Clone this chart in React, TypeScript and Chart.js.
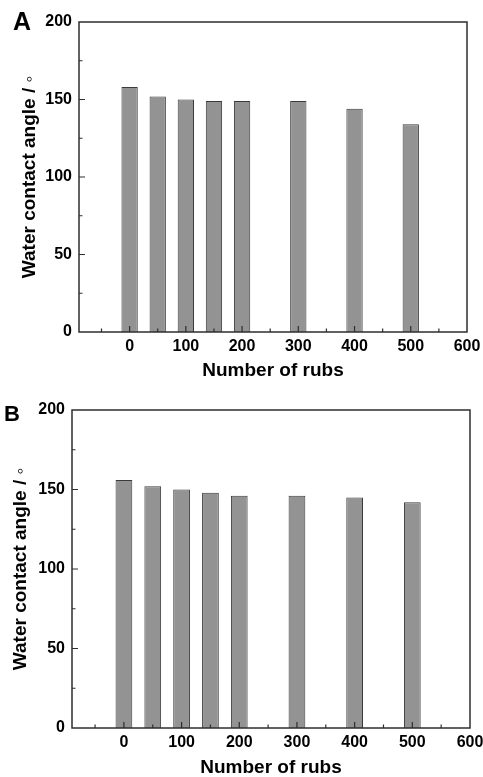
import React, { useEffect, useRef } from "react";
import { Chart, registerables } from "chart.js";

Chart.register(...registerables);

const rubs = [0, 50, 100, 150, 200, 300, 400, 500];
const angleA = [158, 152, 150, 149, 149, 149, 144, 134];
const angleB = [156, 152, 150, 148, 146, 146, 145, 142];
const xMajorTicks = [0, 100, 200, 300, 400, 500, 600];
const xMinorTicks = [-50, 50, 150, 250, 350, 450, 550];
const yMajorTicks = [0, 50, 100, 150, 200];
const yMinorTicks = [25, 75, 125, 175];
const xTitle = "Number of rubs";
const yTitle = "Water contact angle / \u25E6";

const FONT = "'Liberation Sans', Arial, Helvetica, sans-serif";

const frameTicks = {
  id: "frameTicks",
  afterDatasetsDraw(chart: any) {
    const { ctx, chartArea, scales } = chart;
    const { left, right, top, bottom } = chartArea;
    const x = scales.x;
    const y = scales.y;
    ctx.save();
    ctx.strokeStyle = "#2e2e2e";
    ctx.lineWidth = 1.2;
    ctx.beginPath();
    const tick = (vals: number[], len: number, horiz: boolean) => {
      vals.forEach((v) => {
        if (horiz) {
          const px = x.getPixelForValue(v);
          if (px <= left + 1 || px >= right - 1) return;
          ctx.moveTo(px, bottom);
          ctx.lineTo(px, bottom - len);
        } else {
          const py = y.getPixelForValue(v);
          if (py >= bottom - 1 || py <= top + 1) return;
          ctx.moveTo(left, py);
          ctx.lineTo(left + len, py);
        }
      });
    };
    tick(xMajorTicks, 6, true);
    tick(xMinorTicks, 3.5, true);
    tick(yMajorTicks, 6, false);
    tick(yMinorTicks, 3.5, false);
    ctx.stroke();
    ctx.lineWidth = 1.5;
    ctx.strokeRect(left, top, right - left, bottom - top);
    ctx.restore();
  },
};

type PanelProps = {
  values: number[];
  letter: string;
  top: number;
  height: number;
  areaLeft: number;
  areaRight: number;
  areaTop: number;
  areaBottom: number;
  yTitlePad: number;
  xTitlePad: number;
  letterLeft: number;
  letterTop: number;
  letterSize: number;
};

function Panel(p: PanelProps) {
  const ref = useRef<HTMLCanvasElement | null>(null);
  useEffect(() => {
    if (!ref.current) return;
    const chart = new Chart(ref.current, {
      type: "bar",
      data: {
        datasets: [
          {
            data: rubs.map((r, i) => ({ x: r, y: p.values[i] })),
            backgroundColor: "#939393",
            borderColor: "#3a3a3a",
            borderWidth: 1,
            barPercentage: 0.58,
            categoryPercentage: 1,
          },
        ],
      },
      options: {
        responsive: false,
        animation: false,
        layout: {
          padding: { top: p.areaTop, right: 483 - p.areaRight, left: 0, bottom: 0 },
        },
        plugins: {
          legend: { display: false },
          tooltip: { enabled: false },
        },
        scales: {
          x: {
            type: "linear",
            min: -90,
            max: 600,
            offset: false,
            grid: { display: false, drawTicks: false },
            border: { display: false },
            afterBuildTicks: (s: any) => {
              s.ticks = xMajorTicks.map((v) => ({ value: v }));
            },
            afterFit: (s: any) => {
              s.height = p.height - p.areaBottom;
              s.paddingLeft = 0;
              s.paddingRight = 0;
            },
            ticks: {
              color: "#000",
              padding: 5,
              maxRotation: 0,
              autoSkip: false,
              font: { family: FONT, size: 16, weight: "bold" },
            },
            title: {
              display: true,
              text: xTitle,
              color: "#000",
              padding: { top: 0, bottom: p.xTitlePad },
              font: { family: FONT, size: 19, weight: "bold", lineHeight: 1 },
            },
          },
          y: {
            type: "linear",
            min: 0,
            max: 200,
            grid: { display: false, drawTicks: false },
            border: { display: false },
            afterBuildTicks: (s: any) => {
              s.ticks = yMajorTicks.map((v) => ({ value: v }));
            },
            afterFit: (s: any) => {
              s.width = p.areaLeft;
              s.paddingTop = 0;
              s.paddingBottom = 0;
            },
            ticks: {
              color: "#000",
              padding: 7,
              font: { family: FONT, size: 16, weight: "bold" },
            },
            title: {
              display: true,
              text: yTitle,
              color: "#000",
              padding: { top: p.yTitlePad, bottom: 0 },
              font: { family: FONT, size: 19, weight: "bold", lineHeight: 1 },
            },
          },
        },
      } as any,
      plugins: [frameTicks],
    });
    return () => chart.destroy();
  }, []);
  return (
    <div style={{ position: "absolute", left: 0, top: p.top, width: 483, height: p.height }}>
      <canvas ref={ref} width={483} height={p.height} style={{ display: "block" }} />
      <div
        style={{
          position: "absolute",
          left: p.letterLeft,
          top: p.letterTop,
          fontFamily: FONT,
          fontWeight: "bold",
          fontSize: p.letterSize,
          lineHeight: 1,
          color: "#000",
        }}
      >
        {p.letter}
      </div>
    </div>
  );
}

export default function App() {
  return (
    <div style={{ position: "absolute", left: 0, top: 0, width: 483, height: 777, background: "#fff", overflow: "hidden" }}>
      <Panel
        values={angleA}
        letter="A"
        top={0}
        height={388}
        areaLeft={79}
        areaRight={467}
        areaTop={22}
        areaBottom={332}
        yTitlePad={20}
        xTitlePad={8}
        letterLeft={13}
        letterTop={9}
        letterSize={25}
      />
      <Panel
        values={angleB}
        letter="B"
        top={389}
        height={388}
        areaLeft={72}
        areaRight={470}
        areaTop={21}
        areaBottom={339}
        yTitlePad={11}
        xTitlePad={0}
        letterLeft={4}
        letterTop={14}
        letterSize={22}
      />
    </div>
  );
}
